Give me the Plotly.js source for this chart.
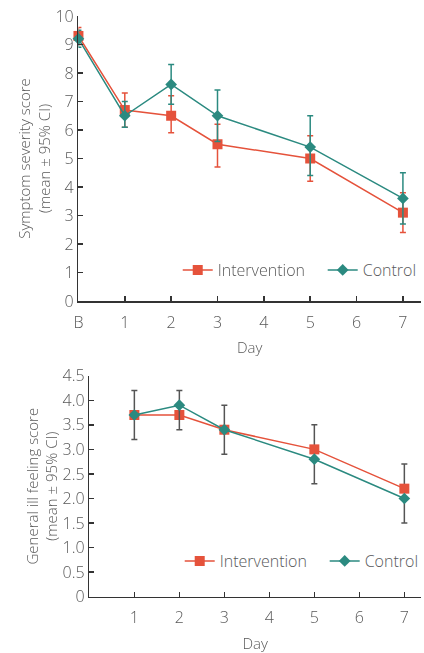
<!DOCTYPE html>
<html><head><meta charset="utf-8">
<script src="https://cdn.plot.ly/plotly-3.0.1.min.js"></script>
<style>html,body{margin:0;padding:0;background:#fff}#chart{width:424px;height:653px}
#chart .xtick text, #chart .x2tick text, #chart .ytick text, #chart .y2tick text, #chart .legendtext, #chart .g-xtitle text, #chart .g-x2title text, #chart .g-ytitle text, #chart .g-y2title text {filter: grayscale(1);}
</style>
</head><body><div id="chart"></div>
<script>
// Top panel: symptom severity
const severityDays = ['B','1','2','3','5','7'];
const severityIntervention = [9.3, 6.7, 6.5, 5.5, 5.0, 3.1];
const severityInterventionUpper = [9.6, 7.3, 7.2, 6.2, 5.8, 3.8];
const severityInterventionLower = [9.0, 6.1, 5.9, 4.7, 4.2, 2.4];
const severityControl = [9.2, 6.5, 7.6, 6.5, 5.4, 3.6];
const severityControlUpper = [9.5, 7.0, 8.3, 7.4, 6.5, 4.5];
const severityControlLower = [8.9, 6.1, 6.9, 5.6, 4.4, 2.7];
const severityCategories = ['B','1','2','3','4','5','6','7'];
const severityYTicks = [0,1,2,3,4,5,6,7,8,9,10];

// Bottom panel: general ill feeling
const illDays = [1, 2, 3, 5, 7];
const illIntervention = [3.7, 3.7, 3.4, 3.0, 2.2];
const illInterventionUpper = [4.2, 4.2, 3.9, 3.5, 2.7];
const illControl = [3.7, 3.9, 3.4, 2.8, 2.0];
const illControlLower = [3.2, 3.4, 2.9, 2.3, 1.5];
const illXTicks = [1, 2, 3, 4, 5, 6, 7];
const illYTickVals = [0, 0.5, 1, 1.5, 2, 2.5, 3, 3.5, 4, 4.5];
const illYTickText = ['0','0.5','1.0','1.5','2.0','2.5','3.0','3.5','4.0','4.5'];

const RED = '#E5523B';
const TEAL = '#2B8A80';
const GREY = '#555555';
const TXT = '#58595b';
const FONT = {family: '"Open Sans", Lato, sans-serif', size: 16, color: TXT, weight: 300};
const TITLEFONT = {family: '"Open Sans", Lato, sans-serif', size: 15, color: TXT, weight: 300};

const diff = (a, b) => a.map((v, i) => Math.round((v - b[i]) * 100) / 100);

const traces = [
  {
    x: severityDays, y: severityIntervention, name: 'Intervention', type: 'scatter', mode: 'lines+markers',
    xaxis: 'x', yaxis: 'y', legend: 'legend', cliponaxis: false,
    line: {color: RED, width: 1.5}, marker: {symbol: 'square', size: 10, color: RED},
    error_y: {type: 'data', symmetric: false, array: diff(severityInterventionUpper, severityIntervention),
      arrayminus: diff(severityIntervention, severityInterventionLower), color: RED, thickness: 1.5, width: 3}
  },
  {
    x: severityDays, y: severityControl, name: 'Control', type: 'scatter', mode: 'lines+markers',
    xaxis: 'x', yaxis: 'y', legend: 'legend2', cliponaxis: false,
    line: {color: TEAL, width: 1.5}, marker: {symbol: 'diamond', size: 9, color: TEAL},
    error_y: {type: 'data', symmetric: false, array: diff(severityControlUpper, severityControl),
      arrayminus: diff(severityControl, severityControlLower), color: TEAL, thickness: 1.5, width: 3}
  },
  {
    x: illDays, y: illIntervention, name: 'Intervention', type: 'scatter', mode: 'lines+markers',
    xaxis: 'x2', yaxis: 'y2', legend: 'legend3', cliponaxis: false,
    line: {color: RED, width: 1.5}, marker: {symbol: 'square', size: 10, color: RED},
    error_y: {type: 'data', symmetric: false, array: diff(illInterventionUpper, illIntervention),
      arrayminus: illIntervention.map(() => 0), color: GREY, thickness: 1.5, width: 3}
  },
  {
    x: illDays, y: illControl, name: 'Control', type: 'scatter', mode: 'lines+markers',
    xaxis: 'x2', yaxis: 'y2', legend: 'legend4', cliponaxis: false,
    line: {color: TEAL, width: 1.5}, marker: {symbol: 'diamond', size: 9, color: TEAL},
    error_y: {type: 'data', symmetric: false, array: illControl.map(() => 0),
      arrayminus: diff(illControl, illControlLower), color: GREY, thickness: 1.5, width: 3}
  }
];

const axisCommon = {
  showline: true, linecolor: '#333', linewidth: 1.5, showgrid: false, zeroline: false,
  ticks: 'inside', ticklen: 5, tickwidth: 1.5, tickcolor: '#333', tickfont: FONT, automargin: false
};

const legendBase = (x, yPx) => ({orientation: 'h', x: x / 424, xanchor: 'left', y: (653 - yPx) / 653,
  yanchor: 'middle', font: FONT, bgcolor: 'rgba(0,0,0,0)', itemwidth: 30});

const layout = {
  width: 424, height: 653,
  margin: {l: 0, r: 0, t: 0, b: 0},
  paper_bgcolor: '#fff', plot_bgcolor: '#fff',
  font: FONT,
  xaxis: Object.assign({}, axisCommon, {
    domain: [79/424, 1], anchor: 'y', type: 'category',
    categoryorder: 'array', categoryarray: severityCategories,
    tickvals: severityCategories, range: [0, 7.39], ticklabelstandoff: 6,
    title: {text: 'Day', font: TITLEFONT, standoff: 11}
  }),
  yaxis: Object.assign({}, axisCommon, {
    domain: [352/653, 637/653], anchor: 'x', range: [0, 10], tickvals: severityYTicks,
    title: {text: 'Symptom severity score<br>(mean ± 95% CI)', font: TITLEFONT, standoff: 1}
  }),
  xaxis2: Object.assign({}, axisCommon, {
    domain: [90/424, 1], anchor: 'y2', range: [0, 7.37], tickvals: illXTicks, ticklabelstandoff: 6,
    title: {text: 'Day', font: TITLEFONT, standoff: 19}
  }),
  yaxis2: Object.assign({}, axisCommon, {
    domain: [56.3/653, 277.3/653], anchor: 'x2', range: [0, 4.5],
    tickvals: illYTickVals, ticktext: illYTickText,
    title: {text: 'General ill feeling score<br>(mean ± 95% CI)', font: TITLEFONT, standoff: 1}
  }),
  legend: legendBase(179, 270),
  legend2: legendBase(325, 270),
  legend3: legendBase(181, 561),
  legend4: legendBase(327, 561),
  showlegend: true
};

Plotly.newPlot('chart', traces, layout, {displayModeBar: false, staticPlot: true});
</script>
</body></html>
